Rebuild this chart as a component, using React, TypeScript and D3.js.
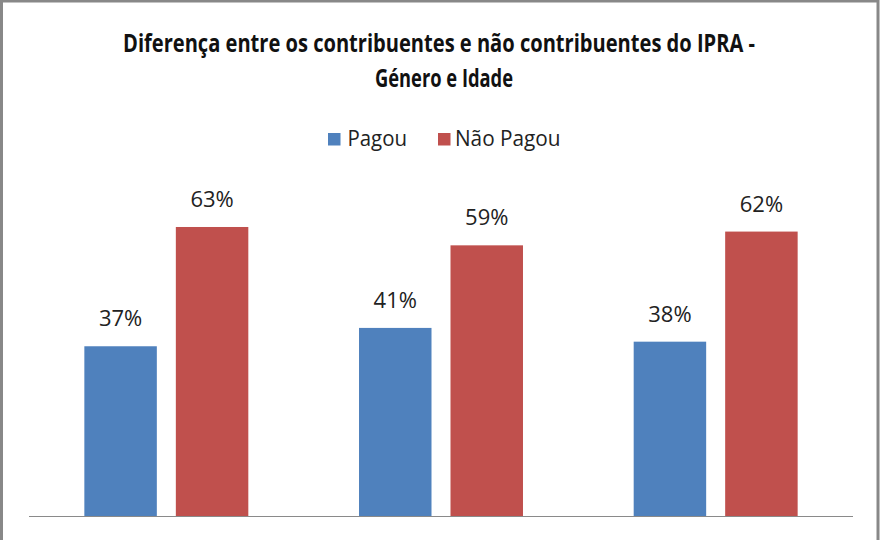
import React from "react";
import * as d3 from "d3";

const categories = ["Grupo 1", "Grupo 2", "Grupo 3"];
const series = ["Pagou", "Não Pagou"];
const pagou = [0.37, 0.41, 0.38];
const naoPagou = [0.63, 0.59, 0.62];
const colors = ["#4F81BD", "#C0504D"];
const titleLines = [
  "Diferença entre os contribuentes e não contribuentes do IPRA -",
  "Género e Idade",
];

const W = 880;
const H = 540;

export default function App() {
  const x0 = d3.scaleBand<string>().domain(categories).range([29, 853]).padding(0);
  const x1 = d3
    .scaleBand<string>()
    .domain(series)
    .range([0, x0.bandwidth()])
    .paddingInner(0.2077)
    .paddingOuter(0.605);
  const y = d3.scaleLinear().domain([0, 0.8]).range([516, 149]);
  const fmt = d3.format(".0%");
  const values = [pagou, naoPagou];
  const font = "'Open Sans', 'Liberation Sans', sans-serif";

  return (
    <svg
      width={W}
      height={H}
      style={{ position: "absolute", left: 0, top: 0, background: "#fff" }}
      fontFamily={font}
    >
      <rect x={1.5} y={1} width={876.5} height={620} fill="#fff" stroke="#888" strokeWidth={3} />
      <g transform="translate(439,52) scale(1,1.15)">
        <text
          x={0}
          y={0}
          textAnchor="middle"
          fontSize={22}
          fontWeight="bold"
          fill="#111"
          textLength={632}
          lengthAdjust="spacingAndGlyphs"
        >
          {titleLines[0]}
        </text>
      </g>
      <g transform="translate(444,87) scale(1,1.15)">
        <text
          x={0}
          y={0}
          textAnchor="middle"
          fontSize={22}
          fontWeight="bold"
          fill="#111"
          textLength={138}
          lengthAdjust="spacingAndGlyphs"
        >
          {titleLines[1]}
        </text>
      </g>

      {/* legend */}
      <g>
        <rect x={328} y={133} width={12.5} height={12.5} fill={colors[0]} />
        <text x={347.5} y={146} fontSize={22} fill="#222" textLength={59.5} lengthAdjust="spacingAndGlyphs">
          {series[0]}
        </text>
        <rect x={438} y={133} width={12.5} height={12.5} fill={colors[1]} />
        <text x={455} y={146} fontSize={22} fill="#222" textLength={105.5} lengthAdjust="spacingAndGlyphs">
          {series[1]}
        </text>
      </g>

      {categories.map((c, ci) => (
        <g key={c} transform={`translate(${x0(c)},0)`}>
          {series.map((s, si) => {
            const v = values[si][ci];
            const bx = x1(s)!;
            return (
              <g key={s}>
                <rect x={bx} y={y(v)} width={x1.bandwidth()} height={y(0) - y(v)} fill={colors[si]} />
                <text
                  x={bx + x1.bandwidth() / 2}
                  y={y(v) - 20}
                  textAnchor="middle"
                  fontSize={22}
                  fill="#222"
                >
                  {fmt(v)}
                </text>
              </g>
            );
          })}
        </g>
      ))}

      <line x1={29} x2={853} y1={516.5} y2={516.5} stroke="#8a8a8a" strokeWidth={1.2} />
    </svg>
  );
}
